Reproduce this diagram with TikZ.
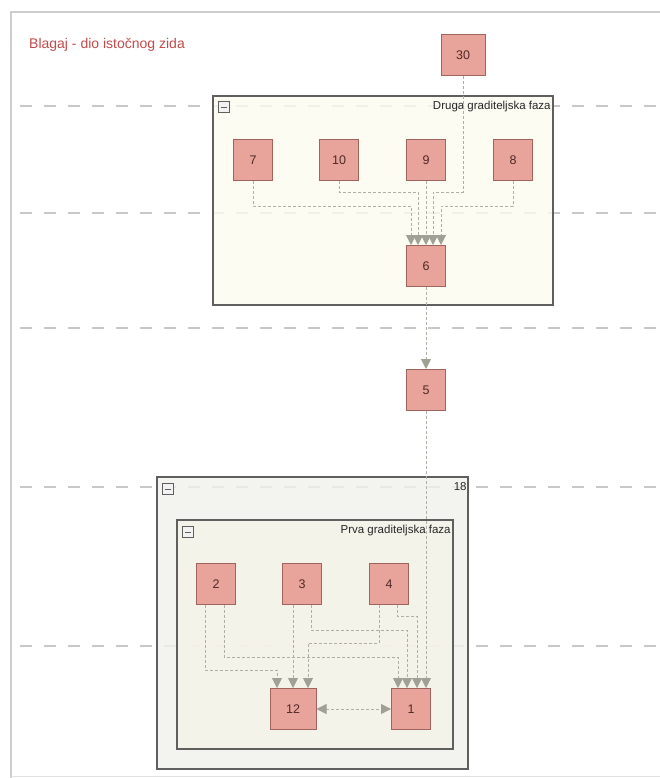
\documentclass[tikz,border=0pt]{standalone}
\usepackage{fontspec}
\setmainfont{Liberation Sans}
\usetikzlibrary{arrows.meta,calc}
\definecolor{titlered}{RGB}{196,74,74}
\definecolor{nodefill}{RGB}{232,164,154}
\definecolor{nodedraw}{RGB}{160,100,95}
\definecolor{nodetext}{RGB}{80,40,40}
\definecolor{edgecol}{RGB}{175,175,165}
\definecolor{tipcol}{RGB}{160,160,148}
\definecolor{lanecol}{RGB}{200,200,200}
\definecolor{grpdraw}{RGB}{95,95,95}
\definecolor{drugafill}{RGB}{253,252,240}
\definecolor{outerfill}{RGB}{240,240,236}
\definecolor{prvafill}{RGB}{245,243,232}
\definecolor{framecol}{RGB}{205,205,205}
\tikzset{
  ctx/.style={draw=nodedraw, line width=1pt, fill=nodefill, minimum width=39pt, minimum height=41pt, inner sep=0pt, font=\fontsize{12.5}{14}\selectfont, text=nodetext},
  grp/.style={draw=grpdraw, line width=1.6pt, inner sep=0pt},
  edge/.style={draw=edgecol, line width=0.8pt, dash pattern=on 3pt off 2pt, -{Triangle[width=10pt,length=10pt,fill=tipcol,color=tipcol]}},
  lane/.style={draw=lanecol, line width=1.2pt, dash pattern=on 12pt off 12pt},
  glabel/.style={font=\fontsize{11.5}{13}\selectfont, text=black!85, inner sep=0pt},
  icon/.style={draw=grpdraw, line width=1.1pt, minimum width=11pt, minimum height=11pt, inner sep=0pt, fill=white!95!black}
}
\begin{document}
\begin{tikzpicture}[x=1pt,y=-1pt]
\useasboundingbox (0,0) rectangle (660,778);
\fill[white] (0,0) rectangle (660,778);
% page frame
\draw[framecol, line width=1.5pt] (11,778) -- (11,12) -- (660,12);
\draw[framecol!60, line width=1pt] (11,776) -- (660,776);
% title
\node[anchor=west, text=titlered, font=\fontsize{14}{16}\selectfont, inner sep=0pt] (title) at (29,45) {Blagaj - dio istočnog zida};
% lanes
\foreach \yy in {106,213,328,487,646} {\draw[lane] (20,\yy) -- (660,\yy);}
% groups
\node[grp, fill=drugafill, fill opacity=0.8, minimum width=340pt, minimum height=209pt] (druga) at (383,200.5) {};
\node[grp, fill=outerfill, fill opacity=0.8, minimum width=311pt, minimum height=292pt] (g18) at (312.5,623) {};
\node[grp, fill=prvafill, fill opacity=0.8, minimum width=276pt, minimum height=229pt] (prva) at (315,634.5) {};
% group icons and labels
\node[icon, anchor=north west] (icD) at ([xshift=6pt,yshift=-6pt]druga.north west) {};
\draw[grpdraw, line width=1.1pt] ([xshift=-3pt]icD.center) -- ([xshift=3pt]icD.center);
\node[icon, anchor=north west] (icO) at ([xshift=6pt,yshift=-7pt]g18.north west) {};
\draw[grpdraw, line width=1.1pt] ([xshift=-3pt]icO.center) -- ([xshift=3pt]icO.center);
\node[icon, anchor=north west] (icP) at ([xshift=6pt,yshift=-7pt]prva.north west) {};
\draw[grpdraw, line width=1.1pt] ([xshift=-3pt]icP.center) -- ([xshift=3pt]icP.center);
\node[glabel, anchor=north east] (lD) at ([xshift=-3pt,yshift=-6pt]druga.north east) {Druga graditeljska faza};
\node[glabel, anchor=north east] (lO) at ([xshift=-2pt,yshift=-6pt]g18.north east) {18};
\node[glabel, anchor=north east] (lP) at ([xshift=-3pt,yshift=-6pt]prva.north east) {Prva graditeljska faza};
% nodes
\node[ctx, minimum width=44pt] (n30) at (463,55) {30};
\node[ctx] (n7) at (253,160) {7};
\node[ctx] (n10) at (339,160) {10};
\node[ctx] (n9) at (426,160) {9};
\node[ctx] (n8) at (513,160) {8};
\node[ctx] (n6) at (426,266) {6};
\node[ctx] (n5) at (426,390) {5};
\node[ctx] (n2) at (216,584) {2};
\node[ctx] (n3) at (302,584) {3};
\node[ctx] (n4) at (389,584) {4};
\node[ctx, minimum width=46pt] (n12) at (293,709) {12};
\node[ctx] (n1) at (411,709) {1};
% edges in Druga
\draw[edge] (n7.south) -- (n7.south |- 0,206) -| ([xshift=-15pt]n6.north);
\draw[edge] (n10.south) -- (n10.south |- 0,192) -| ([xshift=-8pt]n6.north);
\draw[edge] (n9.south) -- (n6.north);
\draw[edge] (n30.south) -- (n30.south |- 0,192) -| ([xshift=7pt]n6.north);
\draw[edge] (n8.south) -- (n8.south |- 0,206) -| ([xshift=15pt]n6.north);
\draw[edge] (n6.south) -- (n5.north);
% edges in Prva
\draw[edge] ([xshift=-11pt]n2.south) -- ([xshift=-11pt]n2.south |- 0,670) -| ([xshift=-16pt]n12.north);
\draw[edge] ([xshift=8pt]n2.south) -- ([xshift=8pt]n2.south |- 0,657) -| ([xshift=-13pt]n1.north);
\draw[edge] ([xshift=-9pt]n3.south) -- (n12.north);
\draw[edge] ([xshift=9pt]n3.south) -- ([xshift=9pt]n3.south |- 0,630) -| ([xshift=-4pt]n1.north);
\draw[edge] ([xshift=-10pt]n4.south) -- ([xshift=-10pt]n4.south |- 0,643) -| ([xshift=15pt]n12.north);
\draw[edge] ([xshift=8pt]n4.south) -- ([xshift=8pt]n4.south |- 0,616) -| ([xshift=6pt]n1.north);
\draw[edge] (n5.south) -- ([xshift=15pt]n1.north);
\draw[edge, {Triangle[width=10pt,length=10pt,fill=tipcol,color=tipcol]}-{Triangle[width=10pt,length=10pt,fill=tipcol,color=tipcol]}] (n12.east) -- (n1.west);
\end{tikzpicture}
\end{document}
